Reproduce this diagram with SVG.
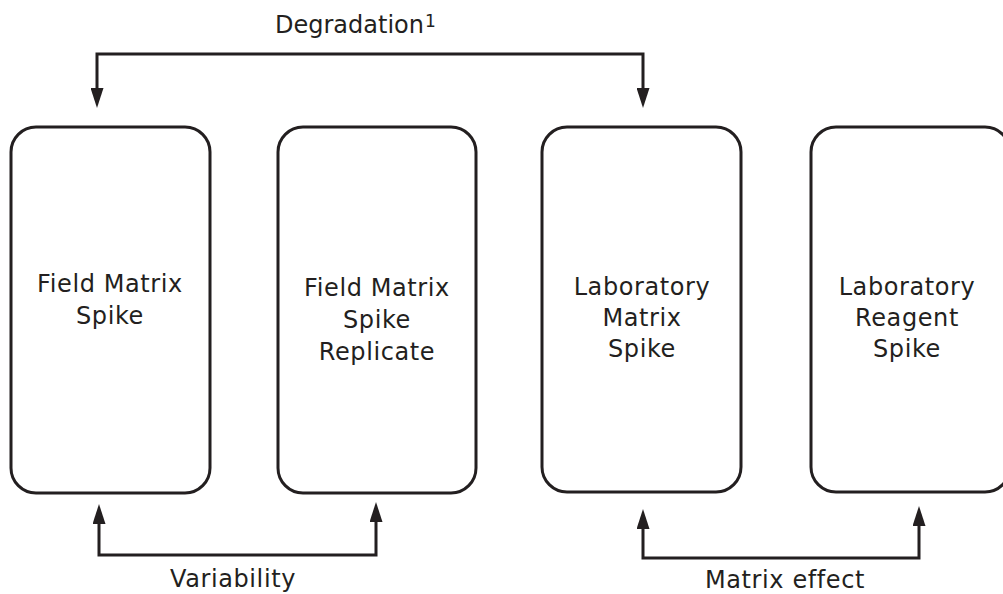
<svg xmlns="http://www.w3.org/2000/svg" width="1003" height="594" viewBox="0 0 1003 594">
  <style>
    .box { fill: #ffffff; stroke: #231f20; stroke-width: 3; }
    .lbl { font-family: "DejaVu Sans", "Liberation Sans", sans-serif; font-size: 24px; fill: #231f20; text-anchor: middle; letter-spacing: 0.6px; }
    .conn { fill: none; stroke: #231f20; stroke-width: 3; stroke-linejoin: miter; }
  </style>
  <defs>
    <marker id="ah" markerUnits="userSpaceOnUse" markerWidth="20" markerHeight="13" refX="12" refY="6.5" orient="auto-start-reverse" viewBox="0 0 20 13">
      <path d="M0,0 L20,6.5 L0,13 z" fill="#231f20"/>
    </marker>
  </defs>
  <rect width="1003" height="594" fill="#ffffff"/>

  <g id="connectors">
    <path class="conn" d="M97,100 V54 H643 V100" marker-start="url(#ah)" marker-end="url(#ah)"/>
    <path class="conn" d="M99,512 V555 H376 V510" marker-start="url(#ah)" marker-end="url(#ah)"/>
    <path class="conn" d="M643,517 V558 H919 V514" marker-start="url(#ah)" marker-end="url(#ah)"/>
    <text x="275" y="33" font-family="DejaVu Sans, Liberation Sans, sans-serif" font-size="24" fill="#231f20">Degradation<tspan font-size="17" dy="-6" dx="1">1</tspan></text>
    <text class="lbl" x="233" y="587">Variability</text>
    <text class="lbl" x="785" y="588">Matrix effect</text>
  </g>

  <g id="field-matrix-spike">
    <rect class="box" x="11" y="127" width="199" height="366" rx="25" ry="25"/>
    <text class="lbl" x="110" y="292">Field Matrix</text>
    <text class="lbl" x="110" y="324">Spike</text>
  </g>

  <g id="field-matrix-spike-replicate">
    <rect class="box" x="278" y="127" width="198" height="366" rx="25" ry="25"/>
    <text class="lbl" x="377" y="296">Field Matrix</text>
    <text class="lbl" x="377" y="328">Spike</text>
    <text class="lbl" x="377" y="360">Replicate</text>
  </g>

  <g id="laboratory-matrix-spike">
    <rect class="box" x="542" y="127" width="199" height="365" rx="25" ry="25"/>
    <text class="lbl" x="642" y="295">Laboratory</text>
    <text class="lbl" x="642" y="326">Matrix</text>
    <text class="lbl" x="642" y="357">Spike</text>
  </g>

  <g id="laboratory-reagent-spike">
    <rect class="box" x="811" y="127" width="199" height="365" rx="25" ry="25"/>
    <text class="lbl" x="907" y="295">Laboratory</text>
    <text class="lbl" x="907" y="326">Reagent</text>
    <text class="lbl" x="907" y="357">Spike</text>
  </g>
</svg>
